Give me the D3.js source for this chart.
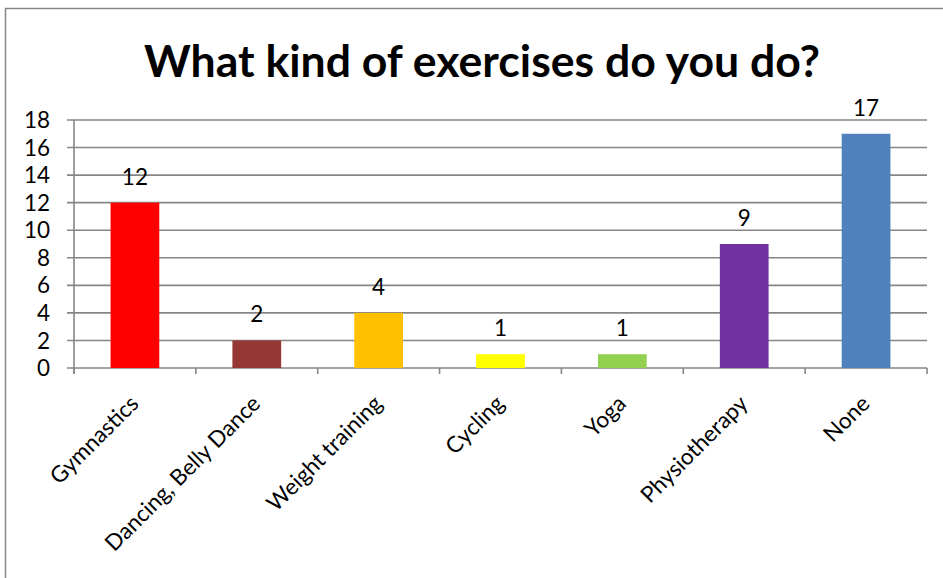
<!DOCTYPE html>
<html>
<head>
<meta charset="utf-8">
<script src="https://cdn.jsdelivr.net/npm/d3@7"></script>
<style>
  html, body { margin: 0; padding: 0; background: #fff; }
  svg { display: block; }
  text { font-family: Lato, "Open Sans", "Liberation Sans", sans-serif; fill: #000; }
</style>
</head>
<body>
<svg id="chart" width="943" height="578"></svg>
<script>
// Survey answers: number of respondents per kind of exercise
const categories = ["Gymnastics", "Dancing, Belly Dance", "Weight training", "Cycling", "Yoga", "Physiotherapy", "None"];
const counts = [12, 2, 4, 1, 1, 9, 17];
const barColors = ["#FF0000", "#953735", "#FFC000", "#FFFF00", "#92D050", "#7030A0", "#4F81BD"];
const yTicks = [0, 2, 4, 6, 8, 10, 12, 14, 16, 18];
const titleText = "What kind of exercises do you do?";

const svg = d3.select("#chart");
const W = 943, H = 578;
const plot = { left: 74, right: 927, top: 120, bottom: 368 };
const gridColor = "#868686";
const labelSize = "22.5px";

// Outer chart frame
svg.append("rect")
  .attr("x", 5.5).attr("y", 8.5)
  .attr("width", W + 10).attr("height", H + 10)
  .attr("fill", "#fff").attr("stroke", "#868686").attr("stroke-width", 1.5);

// Title, sized to span its line
const title = svg.append("text")
  .attr("x", 482).attr("y", 77)
  .attr("text-anchor", "middle")
  .style("font-weight", "bold")
  .style("font-size", "40px")
  .text(titleText);
const tw = title.node().getComputedTextLength();
title.style("font-size", (40 * 676 / tw).toFixed(2) + "px");

const x = d3.scaleBand()
  .domain(categories)
  .range([plot.left, plot.right])
  .paddingInner(0.6).paddingOuter(0.3);

const xOuter = d3.scaleBand()
  .domain(categories)
  .range([plot.left, plot.right]);

const y = d3.scaleLinear().domain([0, 18]).range([plot.bottom, plot.top]);

// Horizontal gridlines
svg.append("g")
  .selectAll("line")
  .data(yTicks)
  .join("line")
  .attr("x1", plot.left - 7).attr("x2", plot.right)
  .attr("y1", d => y(d)).attr("y2", d => y(d))
  .attr("stroke", gridColor).attr("stroke-width", 1.6);

// Value axis line and labels
svg.append("line")
  .attr("x1", plot.left).attr("x2", plot.left)
  .attr("y1", plot.top).attr("y2", plot.bottom + 6)
  .attr("stroke", gridColor).attr("stroke-width", 1.6);

svg.append("g")
  .selectAll("text")
  .data(yTicks)
  .join("text")
  .attr("x", 50).attr("y", d => y(d))
  .attr("dy", "0.36em")
  .attr("text-anchor", "end")
  .style("font-size", labelSize)
  .text(d => d);

// Category axis ticks between groups
const tickXs = categories.map(c => xOuter(c)).concat([plot.right]);
svg.append("g")
  .selectAll("line")
  .data(tickXs)
  .join("line")
  .attr("x1", d => d).attr("x2", d => d)
  .attr("y1", plot.bottom).attr("y2", plot.bottom + 6)
  .attr("stroke", gridColor).attr("stroke-width", 1.6);

// Bars
svg.append("g")
  .selectAll("rect")
  .data(categories)
  .join("rect")
  .attr("x", d => x(d))
  .attr("width", x.bandwidth())
  .attr("y", (d, i) => y(counts[i]))
  .attr("height", (d, i) => y(0) - y(counts[i]))
  .attr("fill", (d, i) => barColors[i]);

// Value labels above the bars
svg.append("g")
  .selectAll("text")
  .data(categories)
  .join("text")
  .attr("x", d => x(d) + x.bandwidth() / 2)
  .attr("y", (d, i) => y(counts[i]) - 18)
  .attr("text-anchor", "middle")
  .style("font-size", labelSize)
  .text((d, i) => counts[i]);

// Rotated category labels
svg.append("g")
  .selectAll("text")
  .data(categories)
  .join("text")
  .attr("text-anchor", "end")
  .style("font-size", labelSize)
  .attr("transform", d => {
    const cx = xOuter(d) + xOuter.bandwidth() / 2 + 5;
    return `translate(${cx},405) rotate(-45)`;
  })
  .text(d => d);
</script>
</body>
</html>
